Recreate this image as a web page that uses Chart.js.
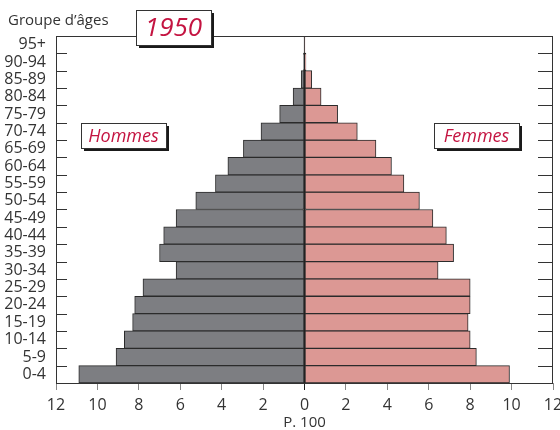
<!DOCTYPE html>
<html>
<head>
<meta charset="utf-8">
<script src="https://cdn.jsdelivr.net/npm/chart.js@4.4.1/dist/chart.umd.min.js"></script>
<style>
  body { margin: 0; background: #fff; }
  #wrap { width: 560px; height: 430px; }
</style>
</head>
<body>
<div id="wrap"><canvas id="pyramide" width="560" height="430"></canvas></div>
<script>
// groupes d'âges, du bas vers le haut
const ages = ['0-4','5-9','10-14','15-19','20-24','25-29','30-34','35-39','40-44','45-49',
              '50-54','55-59','60-64','65-69','70-74','75-79','80-84','85-89','90-94','95+'];
// en % de la population totale (1950)
const hommes = [10.9, 9.1, 8.7, 8.3, 8.2, 7.8, 6.2, 7.0, 6.8, 6.2,
                5.25, 4.3, 3.7, 2.95, 2.1, 1.2, 0.55, 0.16, 0.05, 0.01];
const femmes = [9.9, 8.3, 8.0, 7.9, 8.0, 8.0, 6.45, 7.2, 6.85, 6.2,
                5.55, 4.8, 4.2, 3.45, 2.55, 1.6, 0.8, 0.35, 0.07, 0.02];
const xTicks = [-12, -10, -8, -6, -4, -2, 0, 2, 4, 6, 8, 10, 12];

const FONT = '"Open Sans", "Noto Sans", sans-serif';
const RED = '#c41441';

function boite(ctx, x, y, w, h, txt, size) {
  ctx.fillStyle = '#1a1a1a';
  ctx.fillRect(x + 3, y + 3, w, h);
  ctx.fillStyle = '#fff';
  ctx.fillRect(x, y, w, h);
  ctx.strokeStyle = '#333';
  ctx.lineWidth = 1;
  ctx.strokeRect(x + 0.5, y + 0.5, w, h);
  ctx.fillStyle = RED;
  ctx.font = 'italic ' + size + 'px ' + FONT;
  ctx.textAlign = 'center';
  ctx.textBaseline = 'middle';
  ctx.fillText(txt, x + w / 2, y + h / 2 + 1);
}

const decor = {
  id: 'decor',
  afterDraw(chart) {
    const ctx = chart.ctx;
    const a = chart.chartArea;
    const ys = chart.scales.y;
    const pas = ys.getPixelForTick(0) - ys.getPixelForTick(1);
    ctx.save();
    // cadre
    ctx.strokeStyle = '#333';
    ctx.lineWidth = 1;
    ctx.strokeRect(a.left + 0.5, a.top + 0.5, a.right - a.left - 1, a.bottom - a.top);
    // petits traits aux limites des groupes
    for (let i = 0; i < ages.length; i++) {
      const yb = Math.round(ys.getPixelForTick(i) + pas / 2) + 0.5;
      ctx.beginPath();
      ctx.moveTo(a.left, yb); ctx.lineTo(a.left + 11, yb);
      ctx.moveTo(a.right - 15, yb); ctx.lineTo(a.right, yb);
      ctx.stroke();
    }
    // titres
    ctx.fillStyle = '#333';
    ctx.font = '15px ' + FONT;
    ctx.textAlign = 'left';
    ctx.textBaseline = 'alphabetic';
    ctx.fillText('Groupe d\u2019âges', 8, 25);
    boite(ctx, 136, 10, 75, 35, '1950', 26);
    boite(ctx, 81, 123, 85, 25, 'Hommes', 18);
    boite(ctx, 434, 123, 85, 25, 'Femmes', 18);
    ctx.restore();
  }
};

new Chart(document.getElementById('pyramide'), {
  type: 'bar',
  data: {
    labels: ages,
    datasets: [
      { label: 'Hommes', data: hommes.map(v => -v), backgroundColor: '#7d7e82',
        borderColor: '#2b2b2b', borderWidth: 1, borderSkipped: false,
        barPercentage: 1, categoryPercentage: 1 },
      { label: 'Femmes', data: femmes, backgroundColor: '#dc9894',
        borderColor: '#2b2b2b', borderWidth: 1, borderSkipped: false,
        barPercentage: 1, categoryPercentage: 1 }
    ]
  },
  options: {
    indexAxis: 'y',
    responsive: false,
    animation: false,
    layout: { padding: { top: 36, right: 7, left: 0, bottom: 0 } },
    plugins: { legend: { display: false }, tooltip: { enabled: false } },
    scales: {
      x: {
        stacked: true,
        min: -12, max: 12,
        afterBuildTicks: s => { s.ticks = xTicks.map(v => ({ value: v })); },
        afterFit: s => { s.height = 47; s.paddingLeft = 0; s.paddingRight = 0; },
        border: { display: false },
        grid: {
          drawOnChartArea: true,
          color: c => c.tick && c.tick.value === 0 ? '#222' : 'rgba(0,0,0,0)',
          tickColor: c => c.tick && c.tick.value === 0 ? '#222' : '#888',
          tickLength: 7,
          lineWidth: 1
        },
        ticks: {
          color: '#333',
          font: { family: FONT, size: 16 },
          padding: 6,
          callback: v => Math.abs(v)
        },
        title: {
          display: true, text: 'P. 100', color: '#333',
          font: { family: FONT, size: 15, lineHeight: 1 }, padding: { top: 0, bottom: 0 }
        }
      },
      y: {
        stacked: true,
        reverse: true,
        afterFit: s => { s.width = 56; },
        border: { display: false },
        grid: { display: false },
        ticks: {
          color: '#333',
          font: { family: FONT, size: 16 },
          padding: 2,
          autoSkip: false
        }
      }
    }
  },
  plugins: [decor]
});
</script>
</body>
</html>
